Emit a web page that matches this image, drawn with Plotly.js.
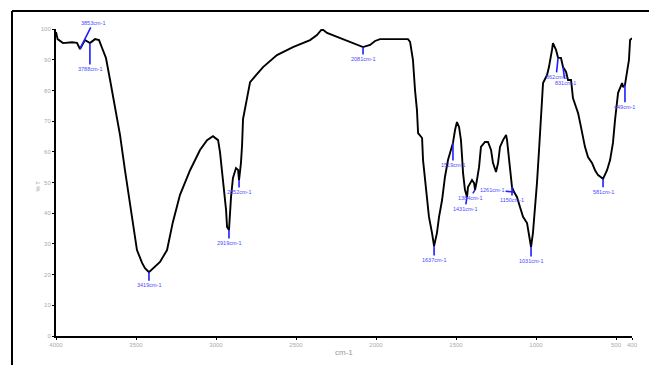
<!DOCTYPE html>
<html>
<head>
<meta charset="utf-8">
<script src="https://cdn.plot.ly/plotly-3.0.1.min.js"></script>
<style>html,body{margin:0;padding:0;background:#fff;}#chart{width:649px;height:365px;}</style>
</head>
<body>
<div id="chart"></div>
<script>
// Wavenumber (cm-1) and transmittance (%T)
const wavenumber = [4000,3990,3956,3900,3869,3850,3819,3788,3756,3731,3712,3688,3662,3631,3600,3569,3537,3506,3494,3462,3444,3419,3394,3350,3306,3270,3225,3162,3100,3056,3019,2987,2975,2962,2950,2937,2931,2919,2906,2894,2875,2862,2856,2844,2837,2831,2806,2787,2706,2619,2519,2412,2369,2337,2306,2225,2144,2081,2037,2006,1975,1800,1787,1769,1756,1744,1737,1712,1706,1687,1669,1650,1637,1619,1606,1587,1569,1550,1531,1519,1506,1494,1481,1469,1462,1456,1444,1431,1425,1400,1387,1381,1369,1356,1344,1319,1300,1281,1269,1250,1237,1225,1206,1187,1181,1169,1150,1137,1119,1100,1081,1056,1044,1031,1019,1006,994,981,969,962,956,931,919,900,894,875,862,844,831,812,800,781,769,750,737,719,706,694,675,650,631,612,581,556,537,519,506,487,462,456,444,431,419,412,400];
const transmittance = [99,96.7,95.4,95.7,95.5,93.5,96.4,95.4,96.7,96.4,93.8,90.6,83.4,74.6,65.5,54,42.7,32.9,28,23.8,22.1,20.8,22.1,24.1,28,37,46,54,60.6,63.8,65.1,63.8,59.9,53.4,47.6,41,35.5,34.5,45.3,51.5,54.7,54.1,50.8,56.4,62.2,70.7,77.5,82.7,87.6,91.5,94.1,96.4,98,100,98.7,97,95.4,94.1,94.8,96.1,96.7,96.7,95.8,89.9,80,73.6,66.1,64.5,57.3,48.5,38.8,33.6,29.3,33.6,38.8,44.3,51.8,57.3,60.6,62.9,67.1,69.7,68.1,63.8,58.3,53.1,47.6,45.3,48.5,50.8,49.8,47.6,50.8,55,61.6,63.2,63.2,60.6,56.4,53.4,56.4,61.6,63.8,65.5,63.8,57.3,48.5,46.9,45.3,42,38.8,36.8,33.6,29,33.6,41,49.8,60.6,71.3,76.9,82.4,85,87.6,93.2,95.4,93.2,90.6,90.6,87.6,86,83.4,83.4,77.5,74.6,72.6,68.1,64.8,61.6,58.3,56.4,54,52.4,51.2,54,57.3,62.9,70.4,79.2,82.4,81.1,81.8,85.7,89.9,96.4,97];

// Peak annotations
const peakWn = [3850,3788,3419,2919,2856,2081,1637,1519,1431,1381,1137,1150,1031,862,831,581,444];
const peakT = [93.5,95.4,20.8,34.5,50.8,94.1,29.3,62.9,45.3,47.6,46.9,48.5,29,90.6,87.6,51.2,81.8];
const peakLabel = ["3853cm-1","3788cm-1","3419cm-1","2919cm-1","2852cm-1","2081cm-1","1637cm-1","1519cm-1","1431cm-1","1384cm-1","1261cm-1","1150cm-1","1031cm-1","862cm-1","831cm-1","581cm-1","449cm-1"];
const peakDx = [13,0,0,0,0,0,0,0,-2,-5,-22,0,0,-2,2,0,0];
const peakDy = [-26,26,13,13,12,12,14,22,12,8,-2,13,14,19,16,13,22];

// Axis ticks
const xTicks = [4000,3500,3000,2500,2000,1500,1000,500,400];
const yTicks = [0,10,20,30,40,50,60,70,80,90,100];

const annotations = peakWn.map((w,i)=>({
  x: w, y: peakT[i], xref:'x', yref:'y',
  text: peakLabel[i], showarrow:true, arrowhead:0, arrowwidth:1.6, arrowcolor:'#1f1fff',
  ax: peakDx[i], ay: peakDy[i], standoff:0,
  font:{family:'Arial, Liberation Sans, sans-serif', size:5.5, color:'#4a4aff'}
}));

annotations.push({
  x:0.5, y:-0.055, xref:'paper', yref:'paper', yanchor:'middle', showarrow:false,
  text:'cm-1', font:{family:'Arial, Liberation Sans, sans-serif', size:8, color:'#999'}
});
annotations.push({
  x:-0.04, y:0.49, xref:'paper', yref:'paper', showarrow:false, textangle:-90,
  text:'% T', font:{family:'Arial, Liberation Sans, sans-serif', size:6, color:'#999'}
});

const trace = {
  x: wavenumber, y: transmittance, type:'scatter', mode:'lines',
  line:{color:'#000', width:1.9}, hoverinfo:'skip'
};

const layout = {
  width:649, height:365,
  margin:{l:56, r:17, t:29, b:29},
  paper_bgcolor:'#fff', plot_bgcolor:'#fff',
  showlegend:false,
  xaxis:{
    range:[4000,400], autorange:false,
    tickvals:xTicks, ticktext:xTicks.map(String),
    showgrid:false, zeroline:false,
    showline:true, linecolor:'#000', linewidth:2,
    ticks:'outside', ticklen:2, tickcolor:'#000',
    tickfont:{family:'Arial, Liberation Sans, sans-serif', size:6, color:'#aaa'}
  },
  yaxis:{
    range:[0,100], autorange:false,
    tickvals:yTicks, ticktext:yTicks.map(String),
    showgrid:false, zeroline:false,
    showline:true, linecolor:'#000', linewidth:2,
    ticks:'outside', ticklen:2, tickcolor:'#000',
    tickfont:{family:'Arial, Liberation Sans, sans-serif', size:6, color:'#aaa'}
  },
  shapes:[
    {type:'line', xref:'paper', yref:'paper', x0:-0.0764, x1:1.2, y0:1.0586, y1:1.0586, line:{color:'#000', width:2}},
    {type:'line', xref:'paper', yref:'paper', x0:-0.0764, x1:-0.0764, y0:1.0586, y1:-0.2, line:{color:'#000', width:2}}
  ],
  annotations: annotations
};

Plotly.newPlot('chart', [trace], layout, {staticPlot:true, displayModeBar:false});
</script>
</body>
</html>
